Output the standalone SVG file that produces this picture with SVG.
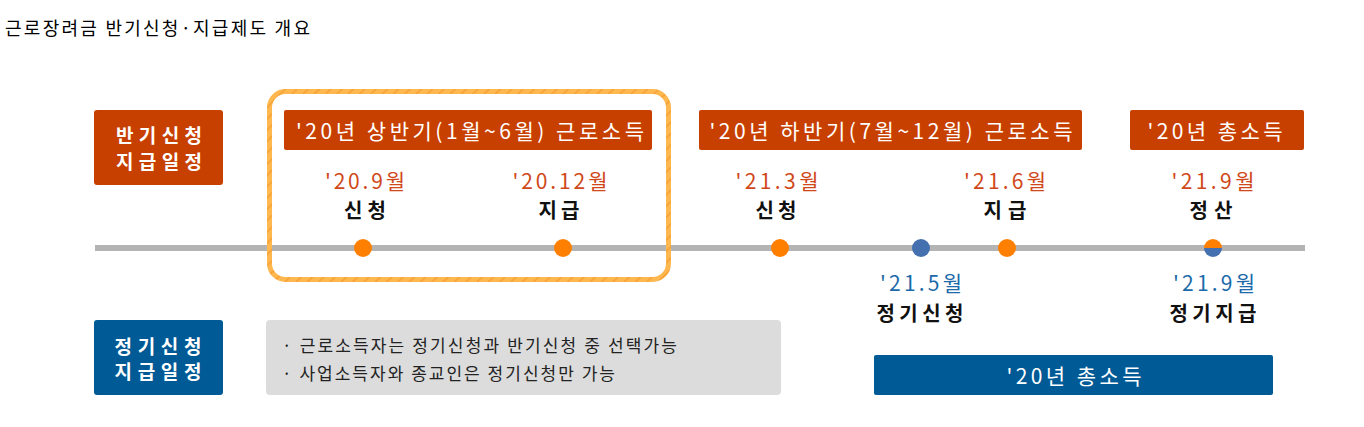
<svg xmlns="http://www.w3.org/2000/svg" width="1364" height="427" viewBox="0 0 1364 427">
<style>
text{font-family:"Noto Sans CJK KR","Noto Sans",sans-serif;}
.title{font-size:18px;fill:#000;}
.lab{font-size:19px;fill:#fff;font-weight:700;text-anchor:middle;}
.hdr{font-size:21px;fill:#fff;text-anchor:middle;}
.od{font-size:21px;fill:#D0481A;text-anchor:middle;}
.bd{font-size:21px;fill:#1C6AAA;text-anchor:middle;}
.ev{font-size:20px;fill:#111;font-weight:700;text-anchor:middle;}
.note{font-size:17px;fill:#222;}
.obox{fill:#C84000;}
.bbox{fill:#005A96;}
.dot-o{fill:#FF8000;}
.dot-b{fill:#4470B0;}
</style>
<defs>
<pattern id="hatch" patternUnits="userSpaceOnUse" width="8" height="8" patternTransform="rotate(45)">
<rect width="8" height="8" fill="#FFB84F"/>
<rect width="1.5" height="8" fill="#F5A033"/>
</pattern>
<clipPath id="topHalf"><rect x="1200" y="236" width="30" height="12"/></clipPath>
<clipPath id="botHalf"><rect x="1200" y="248" width="30" height="14"/></clipPath>
</defs>
<rect width="1364" height="427" fill="#fff"/>

<g id="title">
<text class="title" x="5" y="35" textLength="305" lengthAdjust="spacing">근로장려금 반기신청·지급제도 개요</text>
</g>

<g id="connectors">
<rect x="95" y="245" width="1210" height="6" fill="#B4B4B4"/>
</g>

<g id="half-frame">
<rect x="269.5" y="91.5" width="399" height="188" rx="16" ry="16" fill="none" stroke="url(#hatch)" stroke-width="5"/>
</g>

<g id="label-half">
<rect class="obox" x="94" y="110" width="129" height="75" rx="3"/>
<text class="lab" x="159" y="143" textLength="86" lengthAdjust="spacing">반기신청</text>
<text class="lab" x="159" y="169" textLength="86" lengthAdjust="spacing">지급일정</text>
</g>

<g id="label-regular">
<rect class="bbox" x="94" y="320" width="129" height="75" rx="3"/>
<text class="lab" x="158" y="354" textLength="87" lengthAdjust="spacing">정기신청</text>
<text class="lab" x="158" y="379" textLength="87" lengthAdjust="spacing">지급일정</text>
</g>

<g id="header-h1">
<rect class="obox" x="284" y="110" width="368" height="40" rx="2"/>
<text class="hdr" x="470" y="139" textLength="348" lengthAdjust="spacing">'20년 상반기(1월~6월) 근로소득</text>
</g>

<g id="header-h2">
<rect class="obox" x="699" y="110" width="383" height="40" rx="2"/>
<text class="hdr" x="891" y="139" textLength="363" lengthAdjust="spacing">'20년 하반기(7월~12월) 근로소득</text>
</g>

<g id="header-total">
<rect class="obox" x="1130" y="110" width="174" height="40" rx="2"/>
<text class="hdr" x="1215" y="139" textLength="135" lengthAdjust="spacing">'20년 총소득</text>
</g>

<g id="ev-2009">
<text class="od" x="365" y="189" textLength="80" lengthAdjust="spacing">'20.9월</text>
<text class="ev" x="365" y="218" textLength="42" lengthAdjust="spacing">신청</text>
<circle class="dot-o" cx="363" cy="248" r="9"/>
</g>

<g id="ev-2012">
<text class="od" x="560" y="189" textLength="95" lengthAdjust="spacing">'20.12월</text>
<text class="ev" x="559" y="218" textLength="41" lengthAdjust="spacing">지급</text>
<circle class="dot-o" cx="563" cy="248" r="9"/>
</g>

<g id="ev-2103">
<text class="od" x="777" y="189" textLength="83" lengthAdjust="spacing">'21.3월</text>
<text class="ev" x="776" y="218" textLength="41" lengthAdjust="spacing">신청</text>
<circle class="dot-o" cx="780" cy="248" r="9"/>
</g>

<g id="ev-2105">
<circle class="dot-b" cx="921" cy="248" r="9"/>
<text class="bd" x="921" y="291" textLength="82" lengthAdjust="spacing">'21.5월</text>
<text class="ev" x="920" y="321" textLength="87" lengthAdjust="spacing">정기신청</text>
</g>

<g id="ev-2106">
<text class="od" x="1005" y="189" textLength="82" lengthAdjust="spacing">'21.6월</text>
<text class="ev" x="1005" y="218" textLength="43" lengthAdjust="spacing">지급</text>
<circle class="dot-o" cx="1007" cy="248" r="9"/>
</g>

<g id="ev-2109">
<text class="od" x="1213" y="189" textLength="83" lengthAdjust="spacing">'21.9월</text>
<text class="ev" x="1211" y="218" textLength="43" lengthAdjust="spacing">정산</text>
<circle class="dot-o" cx="1213" cy="248" r="9" clip-path="url(#topHalf)"/>
<circle class="dot-b" cx="1213" cy="248" r="9" clip-path="url(#botHalf)"/>
<text class="bd" x="1214" y="291" textLength="82" lengthAdjust="spacing">'21.9월</text>
<text class="ev" x="1213" y="321" textLength="87" lengthAdjust="spacing">정기지급</text>
</g>

<g id="notes">
<rect x="266" y="320" width="515" height="75" rx="4" fill="#DCDCDC"/>
<text class="note" x="282" y="352" textLength="395" lengthAdjust="spacing">· 근로소득자는 정기신청과 반기신청 중 선택가능</text>
<text class="note" x="282" y="380" textLength="333" lengthAdjust="spacing">· 사업소득자와 종교인은 정기신청만 가능</text>
</g>

<g id="total-regular">
<rect class="bbox" x="874" y="355" width="399" height="40" rx="2"/>
<text class="hdr" x="1074" y="384" textLength="135" lengthAdjust="spacing">'20년 총소득</text>
</g>
</svg>
